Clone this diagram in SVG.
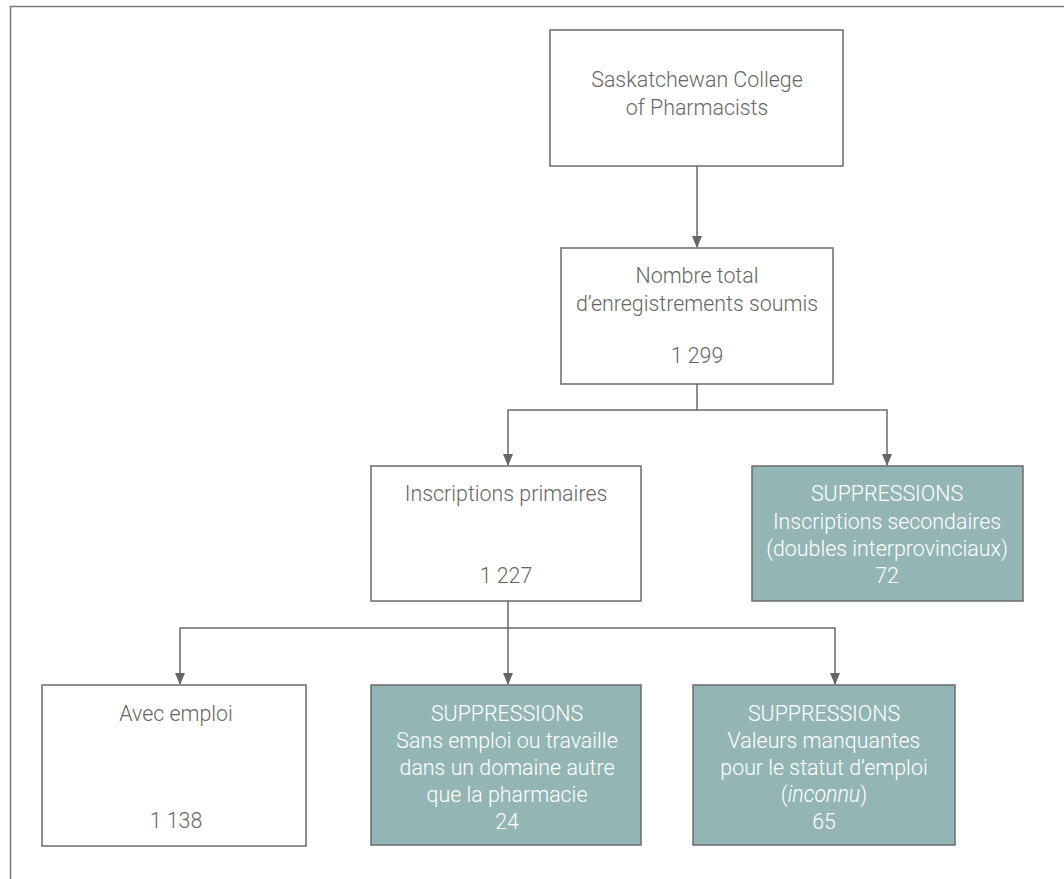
<svg xmlns="http://www.w3.org/2000/svg" width="1064" height="879" viewBox="0 0 1064 879">
<style>
.box{fill:#fff;stroke:#6b6b6b;stroke-width:1.5}
.sup{fill:#93b6b5;stroke:#6b6b6b;stroke-width:1.5}
.t{font-family:Roboto,"Liberation Sans",sans-serif;font-weight:300;font-size:23px;text-anchor:middle;fill:#666}
.w{fill:#fff}
.con{fill:none;stroke:#6b6b6b;stroke-width:1.5}
</style>
<defs>
<marker id="ah" markerWidth="12" markerHeight="10" refX="11" refY="5" orient="auto" markerUnits="userSpaceOnUse" viewBox="0 0 12 10">
<path d="M0,0 L12,5 L0,10 Z" fill="#666"/>
</marker>
</defs>
<rect x="-1" y="-1" width="1066" height="881" fill="#fff"/>
<path d="M10.5,879 V6.5 H1064" fill="none" stroke="#777" stroke-width="1.5"/>

<g id="connectors">
<path class="con" d="M697,166 V247" marker-end="url(#ah)"/>
<path class="con" d="M697,384 V410 H508 V465" marker-end="url(#ah)"/>
<path class="con" d="M697,410 H887 V465" marker-end="url(#ah)"/>
<path class="con" d="M508,601 V628 H180 V684" marker-end="url(#ah)"/>
<path class="con" d="M508,628 V684" marker-end="url(#ah)"/>
<path class="con" d="M508,628 H835 V684" marker-end="url(#ah)"/>
</g>

<g id="n1">
<rect class="box" x="550" y="30" width="293" height="136"/>
<text class="t" transform="translate(697 87) scale(0.93 1)">Saskatchewan College</text>
<text class="t" transform="translate(697 115) scale(0.93 1)">of Pharmacists</text>
</g>

<g id="n2">
<rect class="box" x="561" y="248" width="272" height="136"/>
<text class="t" transform="translate(697 283) scale(0.93 1)">Nombre total</text>
<text class="t" transform="translate(697 311) scale(0.93 1)">d’enregistrements soumis</text>
<text class="t" transform="translate(697 363) scale(0.93 1)">1 299</text>
</g>

<g id="n3">
<rect class="box" x="371" y="466" width="270" height="135"/>
<text class="t" transform="translate(506 501) scale(0.93 1)">Inscriptions primaires</text>
<text class="t" transform="translate(506 583) scale(0.93 1)">1 227</text>
</g>

<g id="n4">
<rect class="sup" x="752" y="466" width="271" height="135"/>
<text class="t w" transform="translate(887 501) scale(0.93 1)">SUPPRESSIONS</text>
<text class="t w" transform="translate(887 529) scale(0.93 1)">Inscriptions secondaires</text>
<text class="t w" transform="translate(887 556) scale(0.93 1)">(doubles interprovinciaux)</text>
<text class="t w" transform="translate(887 583) scale(0.93 1)">72</text>
</g>

<g id="n5">
<rect class="box" x="42" y="685" width="264" height="161"/>
<text class="t" transform="translate(176 721) scale(0.93 1)">Avec emploi</text>
<text class="t" transform="translate(176 828) scale(0.93 1)">1 138</text>
</g>

<g id="n6">
<rect class="sup" x="371" y="685" width="270" height="160"/>
<text class="t w" transform="translate(507 721) scale(0.93 1)">SUPPRESSIONS</text>
<text class="t w" transform="translate(507 748) scale(0.93 1)">Sans emploi ou travaille</text>
<text class="t w" transform="translate(507 775) scale(0.93 1)">dans un domaine autre</text>
<text class="t w" transform="translate(507 802) scale(0.93 1)">que la pharmacie</text>
<text class="t w" transform="translate(507 829) scale(0.93 1)">24</text>
</g>

<g id="n7">
<rect class="sup" x="693" y="685" width="262" height="160"/>
<text class="t w" transform="translate(824 721) scale(0.93 1)">SUPPRESSIONS</text>
<text class="t w" transform="translate(824 748) scale(0.93 1)">Valeurs manquantes</text>
<text class="t w" transform="translate(824 775) scale(0.93 1)">pour le statut d’emploi</text>
<text class="t w" transform="translate(824 802) scale(0.93 1)">(<tspan font-style="italic">inconnu</tspan>)</text>
<text class="t w" transform="translate(824 829) scale(0.93 1)">65</text>
</g>
</svg>
